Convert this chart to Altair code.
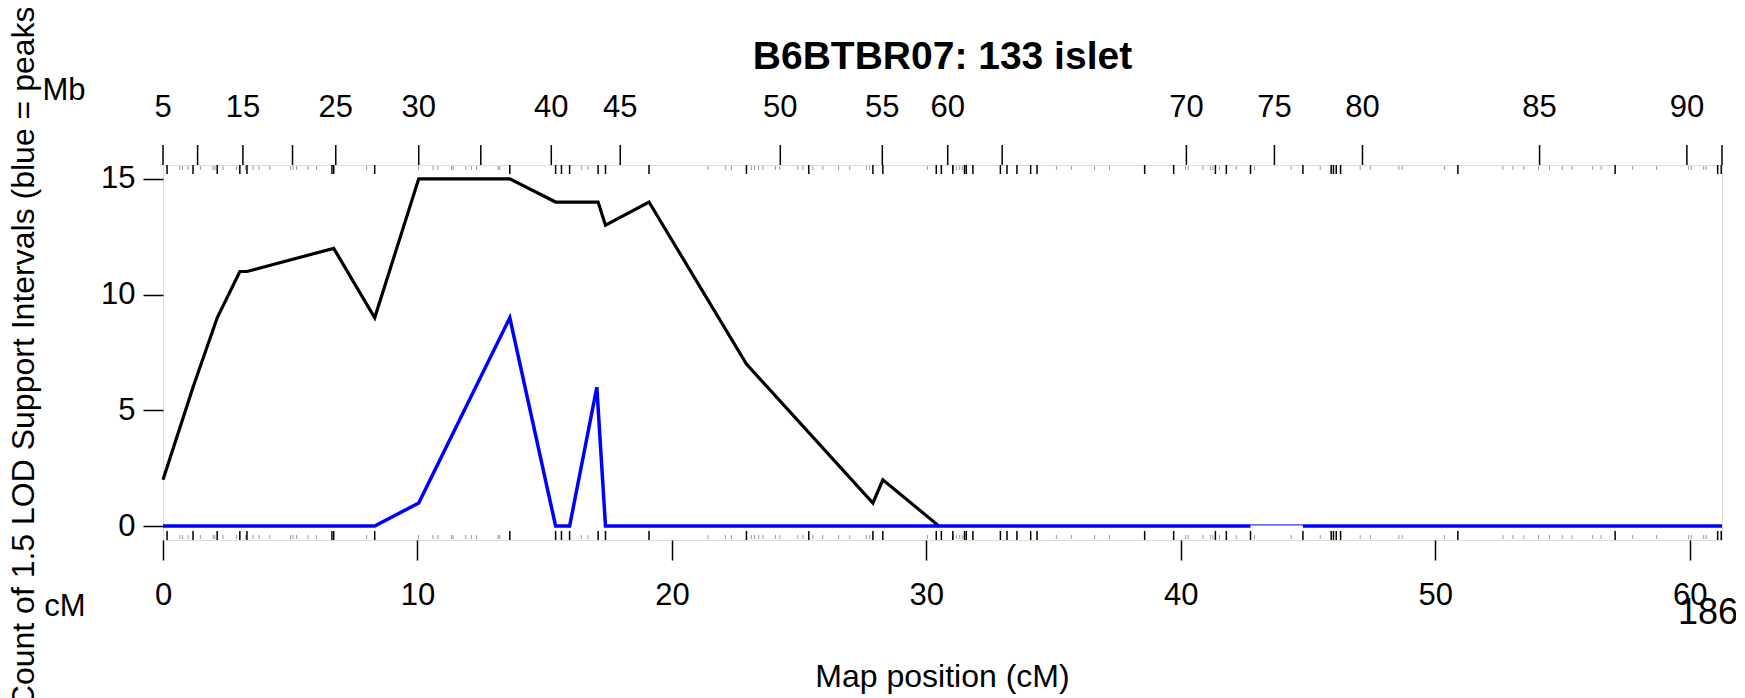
import altair as alt
import pandas as pd

# ---- data ----
# total count of 1.5 LOD support intervals (black)
black_cm = [0, 1.18, 2.13, 3.02, 3.30, 6.71, 8.32, 10.05, 13.63, 15.43, 17.10, 17.39, 19.10, 22.93, 27.90, 28.29, 30.50]
black_n = [2, 6, 9, 11, 11, 12, 9, 15, 15, 14, 14, 13, 14, 7, 1, 2, 0]

# peaks (blue)
blue_cm = [0, 8.32, 10.05, 13.63, 15.43, 15.98, 17.05, 17.39, 42.74]
blue_n = [0, 0, 1, 9, 0, 0, 6, 0, 0]
blue_gap_cm = [42.74, 44.80]
blue_gap_n = [0, 0]
blue_tail_cm = [44.80, 61.27]
blue_tail_n = [0, 0]

# bottom axis (cM)
cm_ticks = [0, 10, 20, 30, 40, 50, 60]
y_ticks = [0, 5, 10, 15]

# top axis (Mb) positions in cM
mb_cm = [0, 1.36, 3.14, 5.09, 6.79, 10.05, 12.49, 15.26, 17.97, 24.26, 28.27, 30.84, 32.98, 40.22, 43.68, 47.14, 54.10, 59.89, 61.27]
mb_text = ["5", "", "15", "", "25", "30", "", "40", "45", "50", "55", "60", "", "70", "75", "80", "85", "90", ""]

# marker rug positions (cM)
rug_major = [0.16, 1.18, 2.13, 3.02, 3.30, 6.64, 6.71, 8.32, 13.63, 15.43, 15.66, 15.98, 17.10, 17.39, 19.10,
             22.93, 25.38, 27.90, 28.29, 30.39, 30.59, 31.04, 31.50, 31.57, 31.83, 32.91, 33.17, 33.56, 34.10,
             34.35, 38.58, 39.72, 41.36, 41.79, 42.74, 44.80, 45.91, 46.00, 46.11, 46.28, 50.89, 57.07, 61.10, 61.24]
rug_minor = [0.66, 0.77, 0.99, 1.47, 1.97, 2.04, 2.36, 2.89, 3.24, 3.54, 3.78, 4.20, 5.01, 5.11, 5.25, 5.70,
             6.03, 8.00, 10.04, 10.61, 10.81, 11.34, 11.40, 11.90, 12.12, 12.32, 13.17, 13.23, 16.44, 16.70,
             21.42, 22.10, 22.34, 23.12, 23.25, 23.41, 23.58, 24.07, 24.24, 24.95, 25.15, 25.54, 25.93, 26.55,
             26.99, 27.64, 27.77, 30.04, 31.07, 31.18, 31.31, 31.41, 35.11, 35.70, 36.61, 37.20, 40.19, 40.29,
             40.87, 41.16, 41.26, 41.52, 42.18, 42.90, 44.34, 45.48, 47.05, 47.45, 48.57, 48.70, 50.36, 52.66,
             53.05, 53.48, 54.06, 54.49, 54.99, 55.37, 56.19, 56.52, 57.76, 58.70, 59.96, 60.06, 60.55, 60.65]

title_text = "B6BTBR07: 133 islet"
ylab_text = "Count of 1.5 LOD Support Intervals (blue = peaks)"
xlab_text = "Map position (cM)"
chrom_len_text = "186"

FONT = "Liberation Sans"
W, H = 1559, 375
X_DOMAIN = [0, 61.27]
Y_DOMAIN = [-0.6, 15.6]

xs = alt.Scale(domain=X_DOMAIN, nice=False, zero=False)
ys = alt.Scale(domain=Y_DOMAIN, nice=False, zero=False)

black_df = pd.DataFrame({"cm": black_cm, "n": black_n})
blue_df = pd.DataFrame({"cm": blue_cm, "n": blue_n})
gap_df = pd.DataFrame({"cm": blue_gap_cm, "n": blue_gap_n})
tail_df = pd.DataFrame({"cm": blue_tail_cm, "n": blue_tail_n})
mb_df = pd.DataFrame({"cm": mb_cm, "lab": mb_text})
major_df = pd.DataFrame({"cm": rug_major})
minor_df = pd.DataFrame({"cm": rug_minor})

x_axis = alt.Axis(values=cm_ticks, tickSize=20, tickWidth=1.5, tickColor="black", domain=False, grid=False,
                  labelFont=FONT, labelFontSize=31, labelColor="black", labelBaseline="middle",
                  labelPadding=35, labelFlush=False, title=None)
y_axis = alt.Axis(values=y_ticks, tickSize=20, tickWidth=1.5, tickColor="black", domain=False, grid=False,
                  labelFont=FONT, labelFontSize=31, labelColor="black", labelPadding=8, title=None)

black_line = alt.Chart(black_df).mark_line(color="black", strokeWidth=3.2).encode(
    x=alt.X("cm:Q", scale=xs, axis=x_axis),
    y=alt.Y("n:Q", scale=ys, axis=y_axis),
)
blue_line = alt.Chart(blue_df).mark_line(color="#0000ff", strokeWidth=3.5).encode(
    x=alt.X("cm:Q", scale=xs), y=alt.Y("n:Q", scale=ys))
blue_tail = alt.Chart(tail_df).mark_line(color="#0000ff", strokeWidth=3.5).encode(
    x=alt.X("cm:Q", scale=xs), y=alt.Y("n:Q", scale=ys))
blue_gap = alt.Chart(gap_df).mark_line(color="#0000ff", strokeWidth=1, yOffset=-1.2).encode(
    x=alt.X("cm:Q", scale=xs), y=alt.Y("n:Q", scale=ys))

rug_major_bot = alt.Chart(major_df).mark_rule(color="black", strokeWidth=1.5).encode(
    x=alt.X("cm:Q", scale=xs), y=alt.value(H), y2=alt.value(H - 9))
rug_major_top = alt.Chart(major_df).mark_rule(color="black", strokeWidth=1.5).encode(
    x=alt.X("cm:Q", scale=xs), y=alt.value(0), y2=alt.value(9))
rug_minor_bot = alt.Chart(minor_df).mark_rule(color="#9a9a9a", strokeWidth=1).encode(
    x=alt.X("cm:Q", scale=xs), y=alt.value(H - 1), y2=alt.value(H - 5))
rug_minor_top = alt.Chart(minor_df).mark_rule(color="#9a9a9a", strokeWidth=1).encode(
    x=alt.X("cm:Q", scale=xs), y=alt.value(1), y2=alt.value(5))

mb_ticks = alt.Chart(mb_df).mark_rule(color="black", strokeWidth=1.5).encode(
    x=alt.X("cm:Q", scale=xs), y=alt.value(0), y2=alt.value(-20))
mb_labels = alt.Chart(mb_df).mark_text(font=FONT, fontSize=31, color="black", baseline="middle").encode(
    x=alt.X("cm:Q", scale=xs), y=alt.value(-57), text="lab:N")


def label(txt, x, y, size=31, weight="normal", angle=0, baseline="middle"):
    kw = dict(font=FONT, fontSize=size, fontWeight=weight, color="black", align="center", baseline=baseline)
    if angle:
        kw["angle"] = angle
    return alt.Chart(pd.DataFrame({"t": [txt]})).mark_text(**kw).encode(
        x=alt.value(x), y=alt.value(y), text="t:N")


title = label(title_text, W / 2, -96, size=39, weight="bold", baseline="alphabetic")
xlab = label(xlab_text, W / 2, 512, size=32)
ylab = label(ylab_text, -139, 187, size=32, angle=270)
mb_word = label("Mb", -99, -74)
cm_word = label("cM", -98, 442)
chrom_len = label(chrom_len_text, 1545, 448, size=36)

chart = alt.layer(
    rug_minor_bot, rug_minor_top, rug_major_bot, rug_major_top,
    black_line, blue_line, blue_tail, blue_gap,
    mb_ticks, mb_labels, title, xlab, ylab, mb_word, cm_word, chrom_len,
).properties(
    width=W, height=H,
    autosize=alt.AutoSizeParams(type="none"),
    padding={"left": 155, "top": 157, "right": 14, "bottom": 158},
).configure_view(stroke="black", strokeWidth=1.5).configure(background="white")

chart.save("out.html", embed_options={"renderer": "svg", "actions": False})
